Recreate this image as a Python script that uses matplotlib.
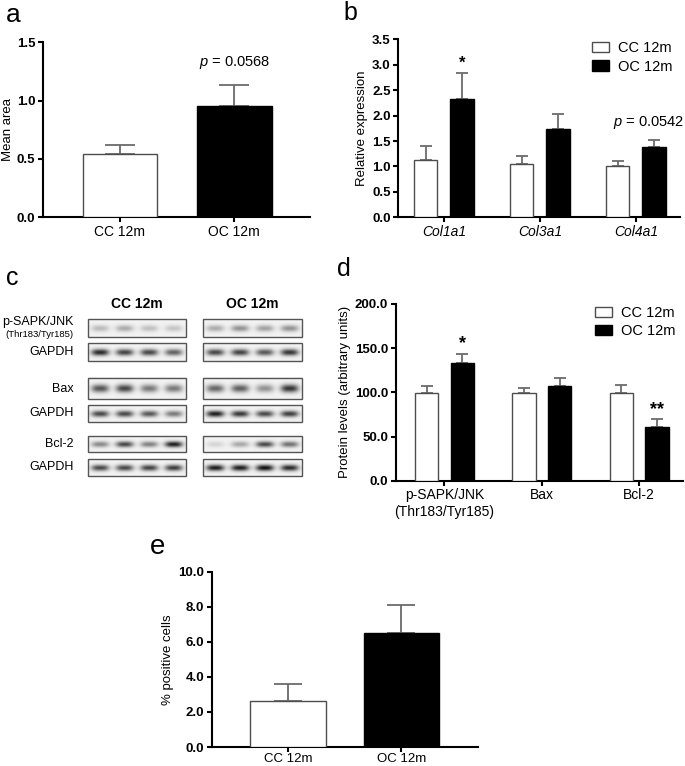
import numpy as np
import matplotlib
matplotlib.use("Agg")
import matplotlib.pyplot as plt
from matplotlib.patches import Patch, Rectangle
from matplotlib.transforms import blended_transform_factory

plt.rcParams['font.family'] = ['Liberation Sans', 'DejaVu Sans']
plt.rcParams['mathtext.fontset'] = 'custom'
plt.rcParams['mathtext.it'] = 'Liberation Sans:italic'
plt.rcParams['mathtext.rm'] = 'Liberation Sans'

# ---------------- data ----------------
groups2 = ["CC 12m", "OC 12m"]

a_mean = [0.545, 0.955]
a_err = [0.076, 0.176]
a_note = "$p$ = 0.0568"

b_genes = ["Col1a1", "Col3a1", "Col4a1"]
b_cc = [1.12, 1.04, 1.01]
b_cc_err = [0.29, 0.17, 0.10]
b_oc = [2.33, 1.74, 1.376]
b_oc_err = [0.51, 0.30, 0.15]
b_notes = ["*", "", "$p$ = 0.0542"]

d_prot = ["p-SAPK/JNK\n(Thr183/Tyr185)", "Bax", "Bcl-2"]
d_cc = [99.6, 99.0, 99.6]
d_cc_err = [7.6, 6.3, 8.3]
d_oc = [132.8, 106.8, 60.4]
d_oc_err = [11.0, 9.8, 9.0]
d_notes = ["*", "", "**"]

e_mean = [2.64, 6.48]
e_err = [0.93, 1.62]

blot_labels = ["p-SAPK/JNK", "GAPDH", "Bax", "GAPDH", "Bcl-2", "GAPDH"]
blot_cc = [[0.22, 0.28, 0.20, 0.18],
           [0.80, 0.70, 0.68, 0.58],
           [0.62, 0.68, 0.48, 0.48],
           [0.68, 0.68, 0.62, 0.48],
           [0.42, 0.68, 0.45, 0.85],
           [0.68, 0.68, 0.70, 0.72]]
blot_oc = [[0.28, 0.38, 0.32, 0.38],
           [0.68, 0.70, 0.62, 0.75],
           [0.55, 0.58, 0.38, 0.75],
           [0.85, 0.75, 0.68, 0.72],
           [0.12, 0.30, 0.68, 0.52],
           [0.85, 0.85, 0.90, 0.80]]

# ---------------- figure ----------------
W, H = 685, 766
fig = plt.figure(figsize=(W / 100, H / 100), dpi=100)

def ax_px(left, right, top, bottom):
    return fig.add_axes([left / W, 1 - bottom / H, (right - left) / W, (bottom - top) / H])

EDGE = '#4d4d4d'
ERR = '#6b6b6b'
TICKFS = 9.5
XFS = 10
YLFS = 9.5

def style(ax, yticks, fmt, xfs=XFS, xpad=2):
    for s in ['top', 'right']:
        ax.spines[s].set_visible(False)
    for s in ['left', 'bottom']:
        ax.spines[s].set_linewidth(1.5)
    ax.set_yticks(yticks)
    ax.set_yticklabels([fmt % v for v in yticks], fontweight='bold', fontsize=TICKFS)
    ax.tick_params(axis='both', direction='out', length=3.5, width=1.5, pad=2)
    ax.tick_params(axis='x', labelsize=xfs, pad=xpad)

def simple_bars(ax, vals, errs, width, capsize):
    x = np.arange(len(vals))
    colors = ['white', 'black']
    edges = [EDGE, 'black']
    for i in range(len(vals)):
        ax.bar(x[i], vals[i], width=width, color=colors[i], edgecolor=edges[i], linewidth=1.0, zorder=3)
        ax.errorbar(x[i], vals[i], yerr=[[0], [errs[i]]], color=ERR, elinewidth=1.3,
                    capsize=capsize, capthick=1.3, zorder=2)
    ax.set_xticks(x)
    ax.set_xticklabels(groups2)

# ---- panel a ----
axa = ax_px(43, 310, 42.3, 217)
simple_bars(axa, a_mean, a_err, 0.65, 10.5)
axa.set_xlim(-0.67, 1.66)
axa.set_ylim(0, 1.5)
style(axa, [0, 0.5, 1.0, 1.5], '%.1f')
axa.set_ylabel("Mean area", fontsize=YLFS, labelpad=2)
axa.text(1, a_mean[1] + a_err[1] + 0.12, a_note, ha='center', va='bottom', fontsize=10.5)

# ---- grouped bars ----
def grouped(ax, labels, cc, cce, oc, oce, off, width, capsize):
    x = np.arange(len(labels))
    ax.bar(x - off, cc, width=width, color='white', edgecolor=EDGE, linewidth=1.0, zorder=3, label='CC 12m')
    ax.bar(x + off, oc, width=width, color='black', edgecolor='black', linewidth=1.0, zorder=3, label='OC 12m')
    ax.errorbar(x - off, cc, yerr=[np.zeros(len(cc)), cce], fmt='none', ecolor=ERR, elinewidth=1.3,
                capsize=capsize, capthick=1.3, zorder=2)
    ax.errorbar(x + off, oc, yerr=[np.zeros(len(oc)), oce], fmt='none', ecolor=ERR, elinewidth=1.3,
                capsize=capsize, capthick=1.3, zorder=2)
    ax.set_xticks(x)
    ax.set_xticklabels(labels)
    handles = [Patch(facecolor='white', edgecolor=EDGE, linewidth=1.0, label='CC 12m'),
               Patch(facecolor='black', edgecolor='black', label='OC 12m')]
    ax.legend(handles=handles, loc='upper right', frameon=False, fontsize=10.5,
              handlelength=1.2, handleheight=0.7, handletextpad=0.6, labelspacing=0.3,
              borderaxespad=0.1, bbox_to_anchor=(1.0, 1.03))
    return x

# ---- panel b ----
axb = ax_px(398.3, 680, 39.3, 217.3)
xb = grouped(axb, b_genes, b_cc, b_cc_err, b_oc, b_oc_err, 0.19, 0.243, 4.3)
axb.set_xlim(-0.475, 2.46)
axb.set_ylim(0, 3.5)
style(axb, np.arange(0, 3.51, 0.5), '%.1f')
for t in axb.get_xticklabels():
    t.set_fontstyle('italic')
axb.set_ylabel("Relative expression", fontsize=YLFS, labelpad=3)
tr_b = blended_transform_factory(fig.transFigure, axb.transData)
for i, n in enumerate(b_notes):
    if n == "*":
        axb.text(xb[i] + 0.19, b_oc[i] + b_oc_err[i] + 0.04, n, ha='center', va='bottom', fontsize=12, fontweight='bold')
    elif n:
        axb.text(684 / W, b_oc[i] + b_oc_err[i] + 0.17, n, ha='right', va='bottom', fontsize=10.5, transform=tr_b)

# ---- panel d ----
axd = ax_px(395.7, 683, 304, 480.7)
xd = grouped(axd, d_prot, d_cc, d_cc_err, d_oc, d_oc_err, 0.183, 0.24, 4.2)
axd.set_xlim(-0.50, 2.45)
axd.set_ylim(0, 200)
style(axd, np.arange(0, 201, 50), '%.1f')
axd.set_ylabel("Protein levels (arbitrary units)", fontsize=YLFS, labelpad=3)
for i, n in enumerate(d_notes):
    if n:
        axd.text(xd[i] + 0.183, d_oc[i] + d_oc_err[i] + 2, n, ha='center', va='bottom', fontsize=13, fontweight='bold')

# ---- panel e ----
axe = ax_px(211.7, 478, 571.7, 747)
simple_bars(axe, e_mean, e_err, 0.665, 9.8)
axe.set_xlim(-0.669, 1.673)
axe.set_ylim(0, 10)
style(axe, np.arange(0, 10.1, 2), '%.1f', xfs=9.5, xpad=1)
axe.set_ylabel("% positive cells", fontsize=YLFS, labelpad=3)

# ---- panel c (blots) ----
axc = ax_px(0, 335, 285, 485)
axc.axis('off')
box_x = [(87.7, 185.7), (203, 301.7)]
row_y = [(319, 336.7), (342.7, 360.7), (378, 399), (405, 421.7), (436, 452), (459, 475.7)]
label_y = [321.7, 352.5, 389.5, 413.5, 444.5, 467.5]

def band_img(levels, nx=200, ny=40):
    xs = (np.arange(nx) + 0.5) / nx
    ys = (np.arange(ny) + 0.5) / ny
    img = np.zeros((ny, nx)) + 0.05
    nl = len(levels)
    for k, lv in enumerate(levels):
        cx = (k + 0.5) / nl
        px = np.exp(-np.abs((xs - cx) / 0.09) ** 3)
        py = np.exp(-((ys - 0.52) / 0.18) ** 2)
        img += lv * np.outer(py, px)
    return np.clip(img, 0, 1)

for r in range(len(blot_labels)):
    y0, y1 = row_y[r]
    for (x0, x1), lv in zip(box_x, [blot_cc[r], blot_oc[r]]):
        axc.imshow(band_img(lv), cmap='gray_r', vmin=0, vmax=1, extent=(x0, x1, y1, y0),
                   aspect='auto', interpolation='bicubic', zorder=1)
        axc.add_patch(Rectangle((x0, y0), x1 - x0, y1 - y0, fill=False, edgecolor='#555555',
                                linewidth=1.0, zorder=2))
    axc.text(74, label_y[r], blot_labels[r], ha='right', va='center', fontsize=9)
axc.text(74, 335, "(Thr183/Tyr185)", ha='right', va='center', fontsize=6.8)
axc.set_xlim(0, 335)
axc.set_ylim(485, 285)
axc.text((box_x[0][0] + box_x[0][1]) / 2, 304, "CC 12m", ha='center', va='center', fontsize=10, fontweight='bold')
axc.text((box_x[1][0] + box_x[1][1]) / 2, 304, "OC 12m", ha='center', va='center', fontsize=10, fontweight='bold')

# ---- panel letters ----
for lab, (px, py, fs) in {"a": (6, 15, 19), "b": (343, 13, 18), "c": (6, 278, 18),
                          "d": (337, 269, 18), "e": (150, 547, 20)}.items():
    fig.text(px / W, 1 - py / H, lab, fontsize=fs, ha='left', va='center')

fig.savefig("out.png", dpi=100)
